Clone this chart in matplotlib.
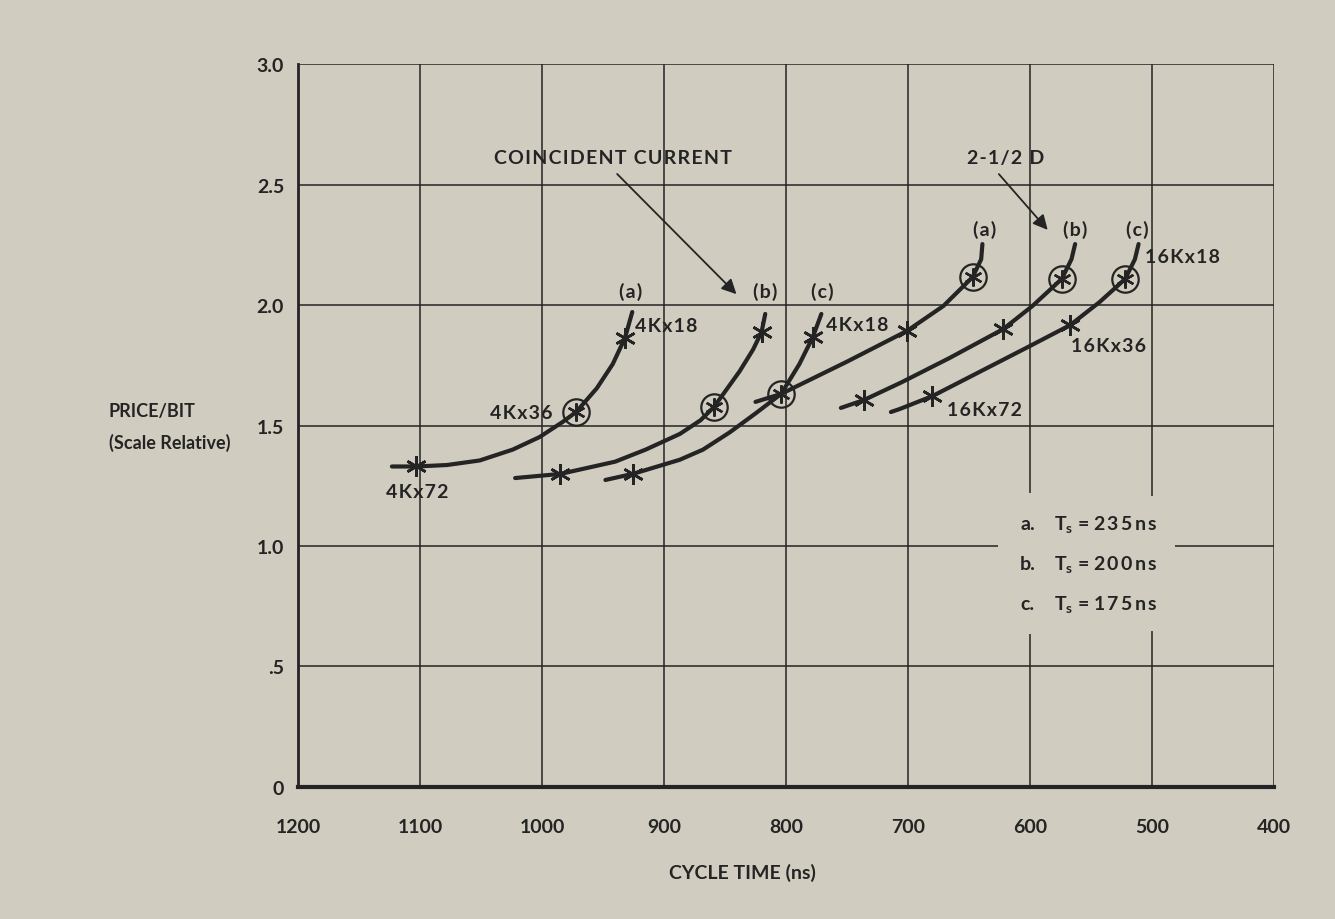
import numpy as np
import matplotlib.pyplot as plt

# Curves: cycle time (ns), relative price/bit
cc_a_x = [1123, 1103, 1078, 1051, 1024, 1002, 983, 972, 955, 942, 932, 926]
cc_a_y = [1.33, 1.33, 1.336, 1.355, 1.40, 1.452, 1.515, 1.556, 1.655, 1.755, 1.863, 1.971]
cc_b_x = [1022, 985, 940, 915, 887, 870, 859, 838, 827, 820, 817]
cc_b_y = [1.282, 1.299, 1.35, 1.40, 1.465, 1.522, 1.577, 1.725, 1.815, 1.888, 1.963]
cc_c_x = [948, 925, 887, 868, 846, 825, 804, 789, 778, 771]
cc_c_y = [1.274, 1.30, 1.358, 1.40, 1.472, 1.55, 1.631, 1.755, 1.867, 1.963]
hd_a_x = [825, 804, 750, 701, 671, 647, 640, 639]
hd_a_y = [1.598, 1.631, 1.765, 1.892, 1.996, 2.116, 2.19, 2.253]
hd_b_x = [755, 736, 705, 666, 622, 598, 574, 566, 563]
hd_b_y = [1.573, 1.606, 1.68, 1.78, 1.90, 1.996, 2.108, 2.19, 2.253]
hd_c_x = [714, 707, 680, 625, 600, 567, 543, 522, 514, 511]
hd_c_y = [1.556, 1.568, 1.622, 1.765, 1.83, 1.917, 2.012, 2.108, 2.19, 2.253]

# marked points (asterisk) and circled points
star_x = [1103, 932, 985, 820, 925, 778, 701, 736, 622, 680, 567]
star_y = [1.33, 1.863, 1.299, 1.888, 1.30, 1.867, 1.892, 1.606, 1.90, 1.622, 1.917]
circ_x = [972, 859, 804, 647, 574, 522]
circ_y = [1.556, 1.577, 1.631, 2.116, 2.108, 2.108]

x_ticks = [1200, 1100, 1000, 900, 800, 700, 600, 500, 400]
y_ticks = [0, 0.5, 1.0, 1.5, 2.0, 2.5, 3.0]
y_labels = ['0', '.5', '1.0', '1.5', '2.0', '2.5', '3.0']

legend_keys = ['a.', 'b.', 'c.']
legend_ts = ['235ns', '200ns', '175ns']
legend_y = [1.07, 0.904, 0.738]

paper = '#d1ccc0'
ink = '#242424'
plt.rcParams['font.family'] = ['Lato', 'DejaVu Sans']
plt.rcParams['font.weight'] = 'bold'


def spaced(s, sep='\u200a'):
    # the original lettering is widely tracked
    return sep.join(s)


fig = plt.figure(figsize=(13.35, 9.2), dpi=100, facecolor=paper)
ax = fig.add_axes([0.2232, 0.1435, 0.7311, 0.7858], facecolor=paper)

for xs, ys in [(cc_a_x, cc_a_y), (cc_b_x, cc_b_y), (cc_c_x, cc_c_y),
               (hd_a_x, hd_a_y), (hd_b_x, hd_b_y), (hd_c_x, hd_c_y)]:
    ax.plot(xs, ys, color=ink, lw=3.0, solid_capstyle='round',
            solid_joinstyle='round', zorder=3)

ax.plot(star_x, star_y, ls='none', marker=(6, 2, 0), ms=15, mew=1.9,
        color=ink, zorder=4)
ax.plot(circ_x, circ_y, ls='none', marker=(6, 2, 0), ms=13, mew=1.7,
        color=ink, zorder=4)
ax.plot(circ_x, circ_y, ls='none', marker='o', ms=19, mew=1.6,
        mfc='none', mec=ink, zorder=4)

ax.set_xlim(1200, 400)
ax.set_ylim(0, 3.0)
ax.set_xticks(x_ticks)
ax.set_yticks(y_ticks)
ax.set_yticklabels(y_labels)
ax.tick_params(length=0, labelsize=14, colors=ink, pad=10)
ax.tick_params(axis='x', pad=22)
ax.grid(True, color=ink, lw=1.1)
for s in ['top', 'right']:
    ax.spines[s].set_visible(False)
ax.spines['left'].set_linewidth(2.0)
ax.spines['bottom'].set_linewidth(3.0)
ax.spines['left'].set_color(ink)
ax.spines['bottom'].set_color(ink)

tkw = dict(color=ink, fontsize=14, zorder=5)
ax.text(942, 2.614, spaced('COINCIDENT CURRENT'), ha='center', va='center', **tkw)
ax.text(620, 2.614, spaced('2-1/2 D'), ha='center', va='center', **tkw)
ax.annotate('', xy=(839, 2.037), xytext=(940, 2.552),
            arrowprops=dict(arrowstyle='-|>', color=ink, lw=1.3,
                            mutation_scale=22))
ax.annotate('', xy=(584, 2.303), xytext=(627, 2.552),
            arrowprops=dict(arrowstyle='-|>', color=ink, lw=1.3,
                            mutation_scale=22))

for x, y, s in [(927, 2.058, '(a)'), (817, 2.058, '(b)'), (770, 2.058, '(c)'),
                (637, 2.315, '(a)'), (563, 2.315, '(b)'), (512, 2.315, '(c)')]:
    ax.text(x, y, spaced(s), ha='center', va='center', **tkw)

ax.text(924, 1.913, spaced('4Kx18'), ha='left', va='center', **tkw)
ax.text(767, 1.921, spaced('4Kx18'), ha='left', va='center', **tkw)
ax.text(991, 1.556, spaced('4Kx36'), ha='right', va='center', **tkw)
ax.text(1102, 1.228, spaced('4Kx72'), ha='center', va='center', **tkw)
ax.text(506, 2.20, spaced('16Kx18'), ha='left', va='center', **tkw)
ax.text(566, 1.83, spaced('16Kx36'), ha='left', va='center', **tkw)
ax.text(668, 1.568, spaced('16Kx72'), ha='left', va='center', **tkw)

# legend block, one line at a time, boxes mask the grid behind it
for k, t, y in zip(legend_keys, legend_ts, legend_y):
    ax.text(608, y, k, ha='left', va='baseline',
            bbox=dict(facecolor=paper, edgecolor='none', pad=16), **tkw)
    ax.text(580, y, r'$\mathregular{T_s}$' + ' = ' + spaced(t, '\u2009'),
            ha='left', va='baseline',
            bbox=dict(facecolor=paper, edgecolor='none', pad=12), **tkw)

fig.text(152 / 1335, 1 - 412 / 920, 'PRICE/BIT', ha='center', va='center',
         color=ink, fontsize=13)
fig.text(170 / 1335, 1 - 443 / 920, '(Scale Relative)', ha='center',
         va='center', color=ink, fontsize=13)
fig.text(742 / 1335, 1 - 873 / 920, 'CYCLE TIME (ns)', ha='center',
         va='center', color=ink, fontsize=14)

fig.savefig('out.png', dpi=100, facecolor=paper)
